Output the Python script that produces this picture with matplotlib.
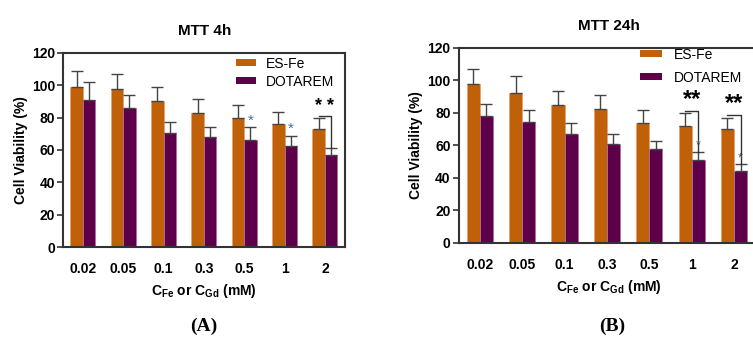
import numpy as np
import matplotlib
matplotlib.use('Agg')
import matplotlib.pyplot as plt
from matplotlib.patches import Patch

plt.rcParams['font.family'] = ['Liberation Sans', 'DejaVu Sans']
plt.rcParams['mathtext.fontset'] = 'custom'
plt.rcParams['mathtext.rm'] = 'Liberation Sans:bold'

# data
conc = ['0.02', '0.05', '0.1', '0.3', '0.5', '1', '2']
esfe_4h = [99, 97.5, 90, 83, 80, 76, 73]
esfe_4h_err = [10, 9.5, 9, 8.5, 8, 7.5, 7]
dota_4h = [91, 86, 70.5, 68, 66, 62.5, 57]
dota_4h_err = [11, 8, 7, 6.5, 8, 6, 4.5]

esfe_24h = [97.5, 92.5, 85, 82.5, 74, 72, 70]
esfe_24h_err = [9.5, 10, 8.5, 8.5, 7.5, 8, 7]
dota_24h = [78, 74.5, 67, 61, 57.5, 51, 44]
dota_24h_err = [7.5, 7, 7, 6, 5, 5, 4.5]

orange = '#C0610A'
purple = '#5E0049'
w = 0.31

fig = plt.figure(figsize=(7.53, 3.37), dpi=100)
axA = fig.add_axes([0.0843, 0.267, 0.374, 0.576])
axB = fig.add_axes([0.6096, 0.279, 0.399, 0.579])


def draw(ax, e, ee, d, de, title, xlim):
    x = np.arange(len(conc))
    ax.bar(x - w/2, e, w, color=orange, edgecolor='#e8a070', linewidth=0.6)
    ax.bar(x + w/2, d, w, color=purple, edgecolor='#b070a0', linewidth=0.6)
    ax.errorbar(x - w/2, e, yerr=[np.zeros(len(e)), ee], fmt='none',
                ecolor='#444444', elinewidth=1, capsize=4, capthick=1)
    ax.errorbar(x + w/2, d, yerr=[np.zeros(len(d)), de], fmt='none',
                ecolor='#444444', elinewidth=1, capsize=4, capthick=1)
    ax.set_xlim(*xlim)
    ax.set_ylim(0, 120)
    ax.set_yticks(range(0, 121, 20))
    ax.set_xticks(x)
    ax.set_xticklabels(conc)
    ax.tick_params(axis='x', length=0, pad=11)
    ax.tick_params(axis='y', length=4, width=1.2, pad=2, color='#333333')
    for lab in ax.get_xticklabels() + ax.get_yticklabels():
        lab.set_fontweight('bold')
        lab.set_fontsize(10)
    for s in ax.spines.values():
        s.set_linewidth(1.5)
        s.set_color('#333333')
    ax.set_ylabel('Cell Viability (%)', fontsize=10, fontweight='bold', labelpad=3)
    ax.set_xlabel(r'C$_{\mathrm{Fe}}$ or C$_{\mathrm{Gd}}$ (mM)', fontsize=10,
                  fontweight='bold', labelpad=4)
    ax.set_title(title, fontsize=11, fontweight='bold', pad=13)
    return x


def legend(ax, anchor, hl, tp, ls):
    handles = [Patch(facecolor=orange, edgecolor='none'),
               Patch(facecolor=purple, edgecolor='none')]
    ax.legend(handles, ['ES-Fe', 'DOTAREM'], loc='upper left', frameon=False,
              fontsize=10, handlelength=hl, handleheight=0.4, handletextpad=tp,
              borderpad=0, borderaxespad=0, labelspacing=ls,
              bbox_to_anchor=anchor)


def bracket(ax, i, ytop, ybot):
    ax.plot([i - w/2, i + w/2, i + w/2], [ytop, ytop, ybot], color='#333333', lw=1)


x = draw(axA, esfe_4h, esfe_4h_err, dota_4h, dota_4h_err, 'MTT 4h', (-0.48, 6.5))
legend(axA, (0.613, 0.98), 1.45, 0.7, 0.3)
axA.text(4 + w/2, 78, '*', ha='center', va='center', fontsize=11, color='#3a6ea5')
axA.text(5 + w/2, 73, '*', ha='center', va='center', fontsize=11, color='#3a6ea5')
bracket(axA, 6, 81, 61.5)
axA.text(6, 87, '* *', ha='center', va='center', fontsize=13, fontweight='bold')

x = draw(axB, esfe_24h, esfe_24h_err, dota_24h, dota_24h_err, 'MTT 24h', (-0.49, 6.6))
legend(axB, (0.603, 1.0), 1.6, 0.85, 0.65)
axB.spines['right'].set_visible(False)
bracket(axB, 5, 81, 56)
bracket(axB, 6, 79, 48.5)
axB.text(5, 88, '**', ha='center', va='center', fontsize=17, fontweight='bold')
axB.text(6, 86, '**', ha='center', va='center', fontsize=17, fontweight='bold')
axB.text(5 + w/2, 60, '*', ha='center', va='center', fontsize=9, color='#555555')
axB.text(6 + w/2, 52, '*', ha='center', va='center', fontsize=9, color='#555555')

fig.text(0.271, 0.032, '(A)', ha='center', va='center', fontsize=14,
         fontweight='bold', family='Liberation Serif')
fig.text(0.813, 0.032, '(B)', ha='center', va='center', fontsize=14,
         fontweight='bold', family='Liberation Serif')

fig.savefig('out.png', dpi=100)
